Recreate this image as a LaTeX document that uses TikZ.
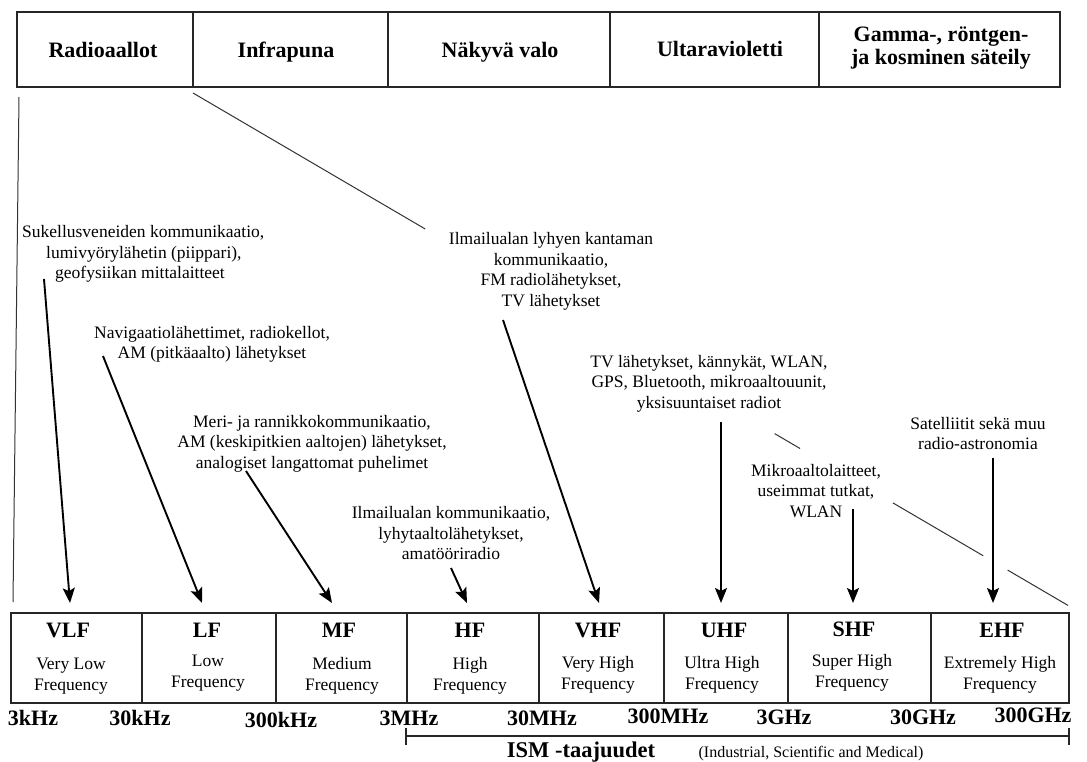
\documentclass[tikz,border=0pt]{standalone}
\usepackage{fontspec}
\setmainfont{Liberation Serif}
\usetikzlibrary{arrows.meta,calc}
\begin{document}
\begin{tikzpicture}[x=1pt,y=-1pt,
  cell/.style={draw=black!85, line width=1.6pt, inner sep=0pt},
  toplbl/.style={font=\bfseries\fontsize{22}{23}\selectfont, inner sep=0pt, anchor=base},
  bandtitle/.style={font=\bfseries\fontsize{22}{24}\selectfont, inner sep=0pt, anchor=base},
  bandsub/.style={font=\fontsize{17.5}{21}\selectfont, align=center, inner sep=0pt},
  freq/.style={font=\bfseries\fontsize{22}{24}\selectfont, inner sep=0pt, anchor=base},
  desc/.style={font=\fontsize{17.5}{20.5}\selectfont, align=center, inner sep=0pt},
  pointer/.style={line width=1.9pt, -{Stealth[length=15pt,width=12pt,inset=3pt]}},
  guide/.style={line width=1pt, black!80},
  ismline/.style={line width=1.2pt, black!85}]
\useasboundingbox[fill=white] (0,0) rectangle (1087,761);

% ---- top spectrum row ----
\node[cell, minimum width=176pt, minimum height=75pt] (rad) at (105,49.5) {};
\node[cell, minimum width=195pt, minimum height=75pt] (ir)  at (290.5,49.5) {};
\node[cell, minimum width=222pt, minimum height=75pt] (vis) at (499,49.5) {};
\node[cell, minimum width=209pt, minimum height=75pt] (uv)  at (714.5,49.5) {};
\node[cell, minimum width=241pt, minimum height=75pt] (gam) at (939.5,49.5) {};
\node[toplbl] (tRad) at (103,57) {Radioaallot};
\node[toplbl] (tIr)  at (286,57) {Infrapuna};
\node[toplbl] (tVis) at (500,57) {Näkyvä valo};
\node[toplbl] (tUv)  at (720,56) {Ultaravioletti};
\node[font=\bfseries\fontsize{22}{23}\selectfont, align=center, inner sep=0pt] (tGam) at (941,48) {Gamma-, röntgen-\\ja kosminen säteily};

% ---- bottom band row ----
\node[cell, minimum width=131pt, minimum height=90pt] (vlf) at (76.5,658) {};
\node[cell, minimum width=134pt, minimum height=90pt] (lf)  at (209,658) {};
\node[cell, minimum width=131pt, minimum height=90pt] (mf)  at (341.5,658) {};
\node[cell, minimum width=132pt, minimum height=90pt] (hf)  at (473,658) {};
\node[cell, minimum width=125pt, minimum height=90pt] (vhf) at (601.5,658) {};
\node[cell, minimum width=124pt, minimum height=90pt] (uhf) at (726,658) {};
\node[cell, minimum width=143pt, minimum height=90pt] (shf) at (859.5,658) {};
\node[cell, minimum width=138pt, minimum height=90pt] (ehf) at (1000,658) {};

\node[bandtitle] (nVLF) at (68,637) {VLF};
\node[bandtitle] (nLF)  at (207,637) {LF};
\node[bandtitle] (nMF)  at (339,637) {MF};
\node[bandtitle] (nHF)  at (470,637) {HF};
\node[bandtitle] (nVHF) at (598,637) {VHF};
\node[bandtitle] (nUHF) at (724,637) {UHF};
\node[bandtitle] (nSHF) at (854,636) {SHF};
\node[bandtitle] (nEHF) at (1002,637) {EHF};

\node[bandsub] (sVLF) at (71,676) {Very Low\\Frequency};
\node[bandsub] (sLF)  at (208,673) {Low\\Frequency};
\node[bandsub] (sMF)  at (342,676) {Medium\\Frequency};
\node[bandsub] (sHF)  at (470,676) {High\\Frequency};
\node[bandsub] (sVHF) at (598,675) {Very High\\Frequency};
\node[bandsub] (sUHF) at (722,675) {Ultra High\\Frequency};
\node[bandsub] (sSHF) at (852,673) {Super High\\Frequency};
\node[bandsub] (sEHF) at (1000,675) {Extremely High\\Frequency};

% ---- frequency limits ----
\node[freq] (f1) at (33,725) {3kHz};
\node[freq] (f2) at (140,725) {30kHz};
\node[freq] (f3) at (281,727) {300kHz};
\node[freq] (f4) at (409,725) {3MHz};
\node[freq] (f5) at (542,725) {30MHz};
\node[freq] (f6) at (668,723) {300MHz};
\node[freq] (f7) at (784,724) {3GHz};
\node[freq] (f8) at (923,724) {30GHz};
\node[freq] (f9) at (1033,722) {300GHz};

% ---- ISM range ----
\coordinate (ismL) at (406,736);
\coordinate (ismR) at (1069,736);
\coordinate (ismLt) at (406,728);
\coordinate (ismLb) at (406,745);
\coordinate (ismRt) at (1069,728);
\coordinate (ismRb) at (1069,745);
\draw[ismline] (ismL) -- (ismR) (ismLt) -- (ismLb) (ismRt) -- (ismRb);
\node[font=\bfseries\fontsize{22.5}{24}\selectfont, inner sep=0pt, anchor=base] (ism) at (581,757) {ISM -taajuudet};
\node[font=\fontsize{16}{18}\selectfont, inner sep=0pt, anchor=base] (ismx) at (811,757) {(Industrial, Scientific and Medical)};

% ---- descriptions ----
\node[desc, align=left, anchor=west] (d1) at (22,254) {Sukellusveneiden kommunikaatio,\\\hspace*{24pt}lumivyörylähetin (piippari),\\\hspace*{33pt}geofysiikan mittalaitteet};
\node[desc] (d2) at (212,344.5) {Navigaatiolähettimet, radiokellot,\\AM (pitkäaalto) lähetykset};
\node[desc] (d3) at (551,271.5) {Ilmailualan lyhyen kantaman\\kommunikaatio,\\FM radiolähetykset,\\TV lähetykset};
\node[desc] (d4) at (709,383.5) {TV lähetykset, kännykät, WLAN,\\GPS, Bluetooth, mikroaaltouunit,\\yksisuuntaiset radiot};
\node[desc] (d5) at (312,443.5) {Meri- ja rannikkokommunikaatio,\\AM (keskipitkien aaltojen) lähetykset,\\analogiset langattomat puhelimet};
\node[desc] (d6) at (451,533.5) {Ilmailualan kommunikaatio,\\lyhytaaltolähetykset,\\amatööriradio};
\node[desc] (d7) at (816,491) {Mikroaaltolaitteet,\\useimmat tutkat,\\WLAN};
\node[desc] (d8) at (978,433.5) {Satelliitit sekä muu\\radio-astronomia};

% ---- arrows ----
\coordinate (a1s) at (44,279);   \coordinate (a1e) at (70,603);
\coordinate (a2s) at (103,356);  \coordinate (a2e) at (202,603);
\coordinate (a3s) at (246,471);  \coordinate (a3e) at (332,603);
\coordinate (a4s) at (451,568);  \coordinate (a4e) at (467,603);
\coordinate (a5s) at (503,320);  \coordinate (a5e) at (599,603);
\coordinate (a6s) at (721,422);  \coordinate (a6e) at (721,603);
\coordinate (a7s) at (853,509);  \coordinate (a7e) at (853,603);
\coordinate (a8s) at (993,458);  \coordinate (a8e) at (993,603);
\foreach \i in {1,...,8} {\draw[pointer] (a\i s) -- (a\i e);}

% ---- zoom guide lines ----
\coordinate (gL1) at (19,97);
\coordinate (gL2) at (13,602);
\draw[guide] (gL1) -- (gL2);
\coordinate (dA) at (193,93);
\coordinate (dB) at (1069,606);
\coordinate (s1) at ($(dA)!0.265!(dB)$);
\coordinate (s2) at ($(dA)!0.664!(dB)$);
\coordinate (s3) at ($(dA)!0.693!(dB)$);
\coordinate (s4) at ($(dA)!0.799!(dB)$);
\coordinate (s5) at ($(dA)!0.902!(dB)$);
\coordinate (s6) at ($(dA)!0.930!(dB)$);
\coordinate (s7) at ($(dA)!0.999!(dB)$);
\draw[guide] (dA) -- (s1) (s2) -- (s3) (s4) -- (s5) (s6) -- (s7);
\end{tikzpicture}
\end{document}
